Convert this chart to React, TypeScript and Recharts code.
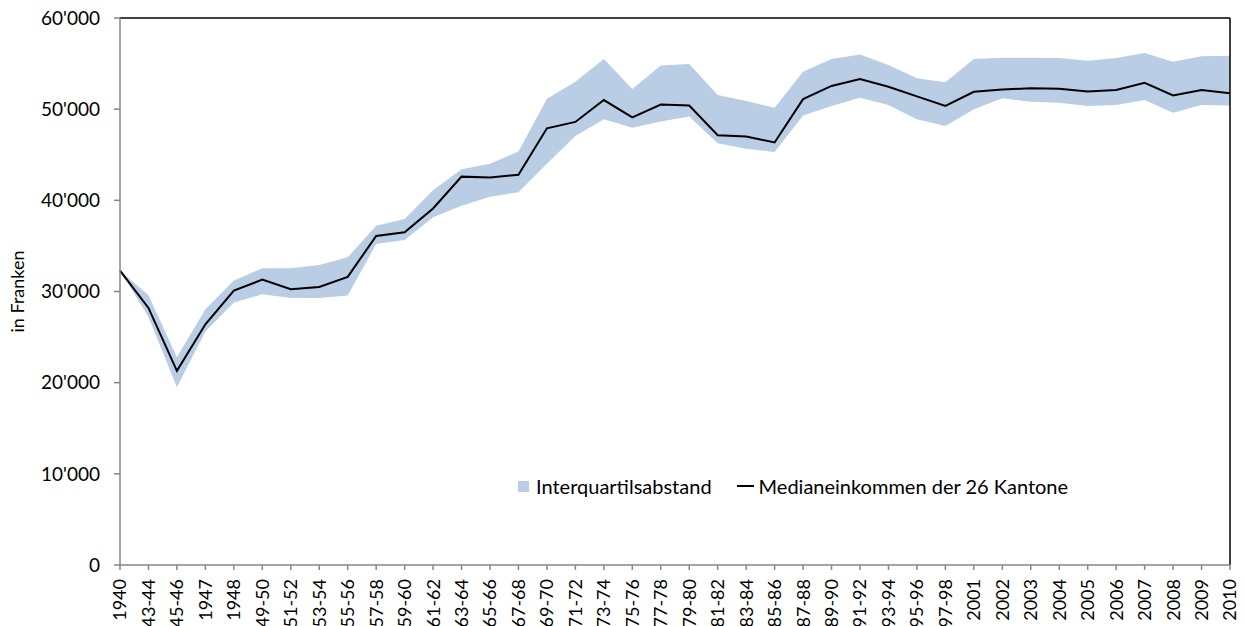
import {
  ComposedChart, Area, Line, XAxis, YAxis, Legend, ReferenceLine,
} from "recharts";

const categories = [
  "1940", "1943-44", "1945-46", "1947", "1948", "1949-50", "1951-52", "1953-54",
  "1955-56", "1957-58", "1959-60", "1961-62", "1963-64", "1965-66", "1967-68",
  "1969-70", "1971-72", "1973-74", "1975-76", "1977-78", "1979-80", "1981-82",
  "1983-84", "1985-86", "1987-88", "1989-90", "1991-92", "1993-94", "1995-96",
  "1997-98", "2001", "2002", "2003", "2004", "2005", "2006", "2007", "2008",
  "2009", "2010",
];

// Medianeinkommen der 26 Kantone
const median = [
  32300, 28200, 21300, 26400, 30100, 31300, 30250, 30500, 31600, 36100,
  36500, 39100, 42600, 42500, 42800, 47900, 48600, 51000, 49100, 50500,
  50400, 47150, 47000, 46350, 51100, 52550, 53300, 52450, 51400, 50350,
  51900, 52150, 52300, 52250, 51950, 52100, 52900, 51500, 52100, 51750,
];

// oberes Quartil
const q3 = [
  32300, 29600, 22800, 28050, 31200, 32550, 32550, 32900, 33750, 37200,
  37950, 41100, 43400, 44000, 45350, 51150, 53000, 55500, 52200, 54800,
  54950, 51550, 50900, 50150, 54100, 55500, 56000, 54850, 53400, 52950,
  55500, 55650, 55650, 55600, 55300, 55600, 56150, 55200, 55800, 55850,
];

// unteres Quartil
const q1 = [
  32300, 27200, 19500, 25600, 28800, 29700, 29300, 29300, 29550, 35200,
  35650, 38150, 39400, 40400, 40900, 44000, 47050, 48900, 47950, 48650,
  49200, 46250, 45650, 45300, 49300, 50350, 51250, 50450, 48900, 48150,
  50000, 51200, 50800, 50700, 50350, 50450, 51000, 49600, 50450, 50400,
];

const yTicks = [0, 10000, 20000, 30000, 40000, 50000, 60000];

const BAND = "#b9cde5";
const AXIS = "#868686";
const FONT = "Lato, 'Open Sans', sans-serif";

const data = categories.map((c, i) => ({
  period: c,
  range: [q1[i], q3[i]],
  median: median[i],
}));

const fmt = (v: number) => String(v).replace(/\B(?=(\d{3})+(?!\d))/g, "'");

function XTick({ x, y, payload }: any) {
  return (
    <g transform={`translate(${x},${y})`}>
      <text
        transform="rotate(-90)"
        x={0}
        y={0}
        dy="0.36em"
        textAnchor="end"
        fill="#000"
        fontSize={18}
        fontFamily={FONT}
      >
        {payload.value}
      </text>
    </g>
  );
}

function LegendBox() {
  return (
    <div style={{ display: "flex", alignItems: "center", fontFamily: FONT, fontSize: 20, color: "#000", whiteSpace: "nowrap" }}>
      <span style={{ width: 11, height: 11, background: BAND, display: "inline-block", marginRight: 7 }} />
      <span>Interquartilsabstand</span>
      <span style={{ width: 17, height: 2, background: "#000", display: "inline-block", marginLeft: 25, marginRight: 5 }} />
      <span>Medianeinkommen der 26 Kantone</span>
    </div>
  );
}

export default function App() {
  return (
    <div style={{ position: "absolute", left: 0, top: 0 }}>
      <ComposedChart
        width={1245}
        height={626}
        data={data}
        margin={{ top: 18, right: 15, left: 0, bottom: 0 }}
      >
        <XAxis
          dataKey="period"
          scale="point"
          interval={0}
          height={61}
          tick={<XTick />}
          tickSize={5}
          tickMargin={9}
          tickLine={{ stroke: AXIS, strokeWidth: 1.5 }}
          axisLine={{ stroke: AXIS, strokeWidth: 1.5 }}
        />
        <YAxis
          domain={[0, 60000]}
          ticks={yTicks}
          width={120}
          tickFormatter={fmt}
          tickSize={6}
          tickMargin={14}
          tick={{ fill: "#000", fontSize: 19, fontFamily: FONT }}
          tickLine={{ stroke: AXIS, strokeWidth: 1.5 }}
          axisLine={{ stroke: AXIS, strokeWidth: 1.5 }}
          label={{
            value: "in Franken",
            angle: -90,
            position: "insideLeft",
            offset: 18,
            style: { textAnchor: "middle", fill: "#000", fontSize: 18, fontFamily: FONT },
          }}
        />
        <ReferenceLine y={60000} stroke="#000" strokeWidth={1.5} />
        <ReferenceLine x="2010" stroke="#000" strokeWidth={1.5} />
        <Legend
          content={<LegendBox />}
          layout="horizontal"
          verticalAlign="middle"
          align="center"
          wrapperStyle={{ left: 518, top: 474, width: "auto" }}
        />
        <Area
          type="linear"
          dataKey="range"
          name="Interquartilsabstand"
          stroke="none"
          fill={BAND}
          fillOpacity={1}
          isAnimationActive={false}
        />
        <Line
          type="linear"
          dataKey="median"
          name="Medianeinkommen der 26 Kantone"
          stroke="#000"
          strokeWidth={2}
          dot={false}
          isAnimationActive={false}
        />
      </ComposedChart>
    </div>
  );
}
